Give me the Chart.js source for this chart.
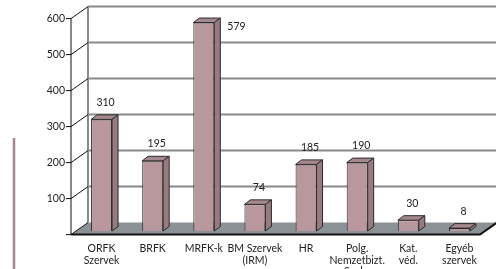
<!DOCTYPE html>
<html>
<head>
<meta charset="utf-8">
<script src="https://cdn.jsdelivr.net/npm/chart.js@4/dist/chart.umd.min.js"></script>
<style>
  html, body { margin: 0; padding: 0; background: #fff; }
  #graph { display: block; }
</style>
</head>
<body>
<canvas id="graph" width="496" height="269"></canvas>
<script>
var categories = [
  ["ORFK", "Szervek"],
  "BRFK",
  "MRFK-k",
  ["BM Szervek", "(IRM)"],
  "HR",
  ["Polg.", "Nemzetbizt.", "Szola."],
  ["Kat.", "véd."],
  ["Egyéb", "szervek"],
];
var values = [310, 195, 579, 74, 185, 190, 30, 8];
var yTicks = [100, 200, 300, 400, 500, 600];

var FONT = "Lato, 'Liberation Sans', sans-serif";
var barFront = "#b8989d";
var barTop = "#a6898e";
var barSide = "#987b80";
var edge = "#2a2a2a";

// depth of the box walls relative to the bar plane
var front = { dx: -5, dy: 3.6 };
var back = { dx: 12, dy: -8.4 };
// depth of each bar
var bd = { dx: 6, dy: -4.5 };

var framePlugin = {
  id: "frame",
  beforeDatasetsDraw: function (chart) {
    var c = chart.ctx;
    var a = chart.chartArea;
    var y = chart.scales.y;
    var y0 = y.getPixelForValue(0);
    var yTop = y.getPixelForValue(600);
    c.save();

    // decorative line at the left
    c.strokeStyle = "#a9858b";
    c.lineWidth = 2.5;
    c.beginPath();
    c.moveTo(14, 138);
    c.lineTo(14, chart.height);
    c.stroke();

    // floor
    c.fillStyle = "#8b9296";
    c.beginPath();
    c.moveTo(a.left + front.dx, y0 + front.dy);
    c.lineTo(a.right + front.dx, y0 + front.dy);
    c.lineTo(a.right + back.dx, y0 + back.dy);
    c.lineTo(a.left + back.dx, y0 + back.dy);
    c.closePath();
    c.fill();

    // back wall grid lines
    c.strokeStyle = "#8a8a8a";
    c.lineWidth = 2;
    yTicks.forEach(function (v) {
      var py = y.getPixelForValue(v) + back.dy;
      c.beginPath();
      c.moveTo(a.left + back.dx, py);
      c.lineTo(a.right + back.dx + 2, py);
      c.stroke();
    });
    c.beginPath();
    c.moveTo(a.left + back.dx, yTop + back.dy);
    c.lineTo(a.left + back.dx, y0 + back.dy);
    c.stroke();
    c.strokeStyle = "#c8c8c8";
    c.lineWidth = 1.5;
    c.beginPath();
    c.moveTo(a.right + back.dx, yTop + back.dy);
    c.lineTo(a.right + back.dx, y0 + back.dy);
    c.stroke();

    // front axis, tick marks, diagonals
    c.strokeStyle = "#111";
    c.lineWidth = 1;
    var fx = a.left + front.dx;
    c.beginPath();
    c.moveTo(fx, yTop + front.dy);
    c.lineTo(fx, y0 + front.dy);
    c.stroke();
    c.font = "10.5px " + FONT;
    c.fillStyle = "#222";
    c.textAlign = "right";
    c.textBaseline = "middle";
    [0].concat(yTicks).forEach(function (v) {
      var py = y.getPixelForValue(v) + front.dy;
      c.beginPath();
      c.moveTo(fx - 5, py);
      c.lineTo(fx, py);
      c.lineTo(a.left + back.dx, y.getPixelForValue(v) + back.dy);
      c.stroke();
      if (v > 0) c.fillText(String(v), fx - 6, py);
    });

    // floor front and right edges
    c.lineWidth = 2;
    c.beginPath();
    c.moveTo(fx, y0 + front.dy);
    c.lineTo(a.right + front.dx, y0 + front.dy);
    c.lineTo(a.right + back.dx, y0 + back.dy);
    c.stroke();
    c.restore();
  },
  afterDatasetsDraw: function (chart) {
    var c = chart.ctx;
    var meta = chart.getDatasetMeta(0);
    c.save();
    c.lineWidth = 1;
    c.strokeStyle = edge;
    meta.data.forEach(function (bar, i) {
      var l = bar.x - bar.width / 2;
      var r = bar.x + bar.width / 2;
      var t = bar.y;
      var b = bar.base;
      // top face
      c.fillStyle = barTop;
      c.beginPath();
      c.moveTo(l, t);
      c.lineTo(l + bd.dx, t + bd.dy);
      c.lineTo(r + bd.dx, t + bd.dy);
      c.lineTo(r, t);
      c.closePath();
      c.fill();
      c.stroke();
      // side face
      c.fillStyle = barSide;
      c.beginPath();
      c.moveTo(r, t);
      c.lineTo(r + bd.dx, t + bd.dy);
      c.lineTo(r + bd.dx, b + bd.dy);
      c.lineTo(r, b);
      c.closePath();
      c.fill();
      c.stroke();

      // value label
      c.fillStyle = "#222";
      c.font = "10.5px " + FONT;
      c.textBaseline = "middle";
      var v = values[i];
      if (t - 20 < chart.chartArea.top) {
        c.textAlign = "left";
        c.fillText(String(v), r + bd.dx + 7, t + 4);
      } else {
        c.textAlign = "center";
        c.fillText(String(v), bar.x + 4, t - 17);
      }
    });
    c.restore();
  },
};

var ctx = document.getElementById("graph").getContext("2d");
var myBarChart = new Chart(ctx, {
  type: "bar",
  data: {
    labels: categories,
    datasets: [
      {
        data: values,
        backgroundColor: barFront,
        borderColor: edge,
        borderWidth: 1,
        barPercentage: 0.41,
        categoryPercentage: 1,
      },
    ],
  },
  options: {
    responsive: false,
    animation: false,
    layout: { padding: { left: 76, right: 11, top: 15, bottom: 0 } },
    plugins: { legend: { display: false }, tooltip: { enabled: false } },
    scales: {
      x: {
        grid: { display: false, drawTicks: false },
        border: { display: false },
        ticks: {
          padding: 12,
          color: "#222",
          maxRotation: 0,
          autoSkip: false,
          font: { family: FONT, size: 10.5, lineHeight: 1.1 },
        },
        afterFit: function (scale) {
          scale.height = 38;
        },
      },
      y: {
        display: false,
        min: 0,
        max: 600,
      },
    },
  },
  plugins: [framePlugin],
});
</script>
</body>
</html>
